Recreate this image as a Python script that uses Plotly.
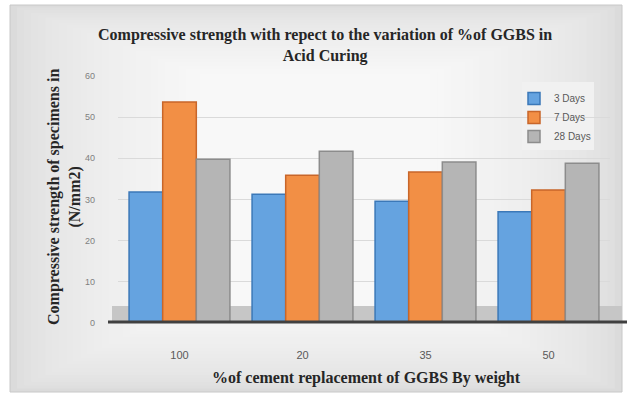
import plotly.graph_objects as go

categories = ["100", "20", "35", "50"]
days3 = [31.8, 31.3, 29.6, 27.0]
days7 = [53.7, 35.9, 36.7, 32.3]
days28 = [39.8, 41.7, 39.1, 38.8]
series_names = ["3 Days", "7 Days", "28 Days"]
fill_colors = ["#65a3e0", "#f28f45", "#b5b5b5"]
edge_colors = ["#3b78b8", "#c8662a", "#8c8c8c"]

W, H = 627, 397
L, R, T, B = 118, 610, 76, 323


def px(x):
    return (x - L) / (R - L)


def py(y):
    return (B - y) / (B - T)


fig = go.Figure()
for name, vals, fc, ec in zip(series_names, [days3, days7, days28], fill_colors, edge_colors):
    fig.add_trace(go.Bar(
        x=categories, y=vals, name=name,
        marker=dict(color=fc, line=dict(color=ec, width=1.5)),
    ))

shapes = []
# smooth background gradient (decorative chart-area fill)
n = 28
ox0, oy0, ox1, oy1 = 10, 5, 622, 392
ix0, iy0, ix1, iy1 = 200, 120, 430, 300
c_out, c_in = 0xdb, 0xf8
for i in range(n):
    f = i / (n - 1)
    x0 = ox0 + (ix0 - ox0) * f
    y0 = oy0 + (iy0 - oy0) * f * 0.6
    x1 = ox1 + (ix1 - ox1) * f
    y1 = oy1 + (iy1 - oy1) * f
    v = int(round(c_out + (c_in - c_out) * (f ** 0.6)))
    col = "#%02x%02x%02x" % (v, v, v)
    shapes.append(dict(type="rect", xref="paper", yref="paper", layer="below",
                       x0=px(x0), x1=px(x1), y0=py(y1), y1=py(y0),
                       fillcolor=col, line=dict(width=0)))
shapes.append(dict(type="rect", xref="paper", yref="paper", layer="below",
                   x0=px(10), x1=px(622), y0=py(392), y1=py(5),
                   fillcolor="rgba(0,0,0,0)", line=dict(color="#c8c8c8", width=1)))
# legend backdrop
shapes.append(dict(type="rect", xref="paper", yref="paper", layer="below",
                   x0=px(522), x1=px(594), y0=py(150), y1=py(82),
                   fillcolor="#f1f1f1", line=dict(width=0)))
# floor
shapes.append(dict(type="rect", xref="paper", yref="paper", layer="below",
                   x0=px(112), x1=px(622), y0=py(323), y1=py(306),
                   fillcolor="#c6c6c6", line=dict(width=0)))
shapes.append(dict(type="line", xref="paper", yref="paper",
                   x0=px(108), x1=px(627), y0=py(322), y1=py(322),
                   line=dict(color="#404040", width=3)))

title_font = dict(family="Liberation Serif", size=16, color="#262626")
fig.update_layout(
    width=W, height=H,
    margin=dict(l=L, r=W - R, t=T, b=H - B, pad=0),
    paper_bgcolor="white",
    plot_bgcolor="rgba(0,0,0,0)",
    barmode="group", bargap=0.18, bargroupgap=0.0,
    shapes=shapes,
    showlegend=True,
    legend=dict(x=px(514), y=py(84), xanchor="left", yanchor="top",
                bgcolor="rgba(0,0,0,0)", font=dict(family="Liberation Sans", size=10, color="#595959"),
                itemwidth=30, tracegroupgap=3),
    font=dict(family="Liberation Sans", color="#595959"),
    annotations=[
        dict(text="<b>Compressive strength with repect to the variation of %of GGBS in<br>Acid Curing</b>",
             xref="paper", yref="paper", x=px(325), y=py(46), xanchor="center", yanchor="middle",
             showarrow=False, font=title_font),
        dict(text="<b>Compressive strength of specimens in<br>(N/mm2)</b>",
             xref="paper", yref="paper", x=px(64), y=py(197), xanchor="center", yanchor="middle",
             showarrow=False, textangle=-90, font=title_font),
        dict(text="<b>%of cement replacement of GGBS By weight</b>",
             xref="paper", yref="paper", x=px(366), y=py(378), xanchor="center", yanchor="middle",
             showarrow=False, font=title_font),
    ],
)
fig.update_yaxes(range=[0, 60], dtick=10, showgrid=True, gridcolor="#dadada", gridwidth=1,
                 zeroline=False, showline=False, ticks="", ticklabelstandoff=22,
                 tickfont=dict(family="Liberation Sans", size=9, color="#7f7f7f"))
fig.update_xaxes(showgrid=False, showline=False, ticks="", ticklabelstandoff=24,
                 tickfont=dict(family="Liberation Sans", size=11, color="#595959"))

fig.write_html("out.html")
